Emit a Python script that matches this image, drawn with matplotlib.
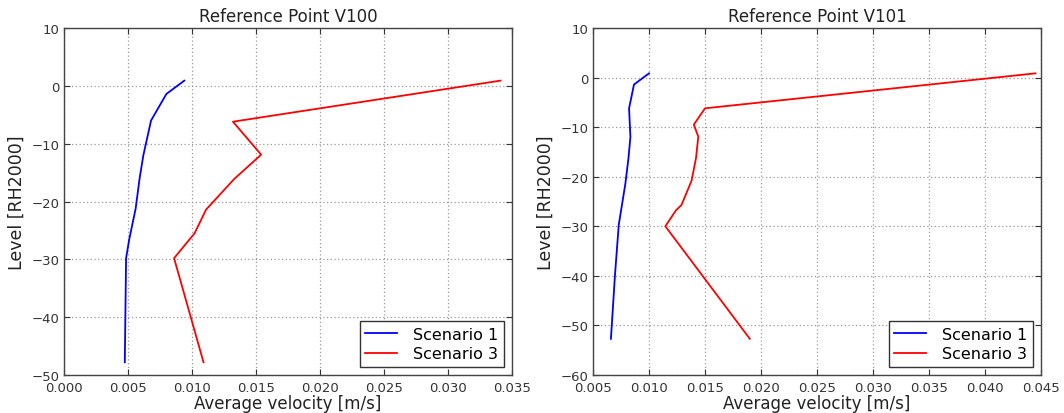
import matplotlib
matplotlib.use('Agg')
import matplotlib.pyplot as plt

# Reference Point V100
v100_level_s1 = [0.9, -1.4, -6.0, -9.5, -12.0, -16.1, -21.2, -26.5, -29.8, -47.8]
v100_vel_s1 = [0.0094, 0.0080, 0.0068, 0.00645, 0.0062, 0.0059, 0.0056, 0.0051, 0.00485, 0.00475]
v100_level_s3 = [0.9, -6.2, -11.9, -16.1, -21.4, -25.5, -29.8, -47.8]
v100_vel_s3 = [0.0341, 0.0132, 0.0154, 0.0133, 0.0111, 0.0102, 0.0086, 0.0109]

# Reference Point V101
v101_level_s1 = [0.85, -1.4, -6.2, -12.0, -16.4, -21.4, -29.7, -39.9, -52.7]
v101_vel_s1 = [0.0100, 0.00866, 0.00822, 0.00834, 0.00816, 0.00789, 0.0073, 0.00696, 0.0066]
v101_level_s3 = [0.85, -6.2, -9.5, -11.9, -16.2, -20.8, -25.7, -26.8, -30.0, -52.7]
v101_vel_s3 = [0.0445, 0.0150, 0.0140, 0.0144, 0.0142, 0.0138, 0.0129, 0.0124, 0.01146, 0.0190]

panels = [
    ('Reference Point V100', v100_vel_s1, v100_level_s1, v100_vel_s3, v100_level_s3,
     (0.0, 0.035), (-50, 10)),
    ('Reference Point V101', v101_vel_s1, v101_level_s1, v101_vel_s3, v101_level_s3,
     (0.005, 0.045), (-60, 10)),
]

plt.rcParams['font.family'] = 'DejaVu Sans'
plt.rcParams['xtick.direction'] = 'in'
plt.rcParams['ytick.direction'] = 'in'
plt.rcParams['xtick.top'] = True
plt.rcParams['ytick.right'] = True

fig = plt.figure(figsize=(10.64, 4.14), dpi=100, facecolor='w')
boxes = [[64 / 1064, 1 - 376 / 414, 448 / 1064, 347 / 414],
         [593 / 1064, 1 - 376 / 414, 448 / 1064, 347 / 414]]

for box, (title, x1, y1, x3, y3, xlim, ylim) in zip(boxes, panels):
    ax = fig.add_axes(box)
    ax.plot(x1, y1, color='#0000ff', linewidth=1.3, label='Scenario 1')
    ax.plot(x3, y3, color='#ff0000', linewidth=1.3, label='Scenario 3')
    ax.set_xlim(xlim)
    ax.set_ylim(ylim)
    ax.grid(True, linestyle=(0, (1, 2)), color='#999999', linewidth=0.9)
    ax.set_title(title, fontsize=12, color='#222222', pad=5)
    ax.set_xlabel('Average velocity [m/s]', fontsize=12, color='#222222', labelpad=0)
    ax.set_ylabel('Level [RH2000]', fontsize=12.5, color='#222222', labelpad=4)
    ax.tick_params(labelsize=9.5, colors='#333333', length=4, width=0.8)
    ax.tick_params(axis='x', pad=4)
    ax.xaxis.set_major_formatter(matplotlib.ticker.FormatStrFormatter('%.3f'))
    for s in ax.spines.values():
        s.set_color('#444444')
        s.set_linewidth(1.0)
    leg = ax.legend(loc='lower right', fontsize=11.5, fancybox=False, framealpha=1,
                    handlelength=2.0, borderpad=0.35, labelspacing=0.3, handletextpad=1.0)
    leg.get_frame().set_edgecolor('#333333')
    leg.get_frame().set_linewidth(1.0)

plt.savefig('out.png', dpi=100)
